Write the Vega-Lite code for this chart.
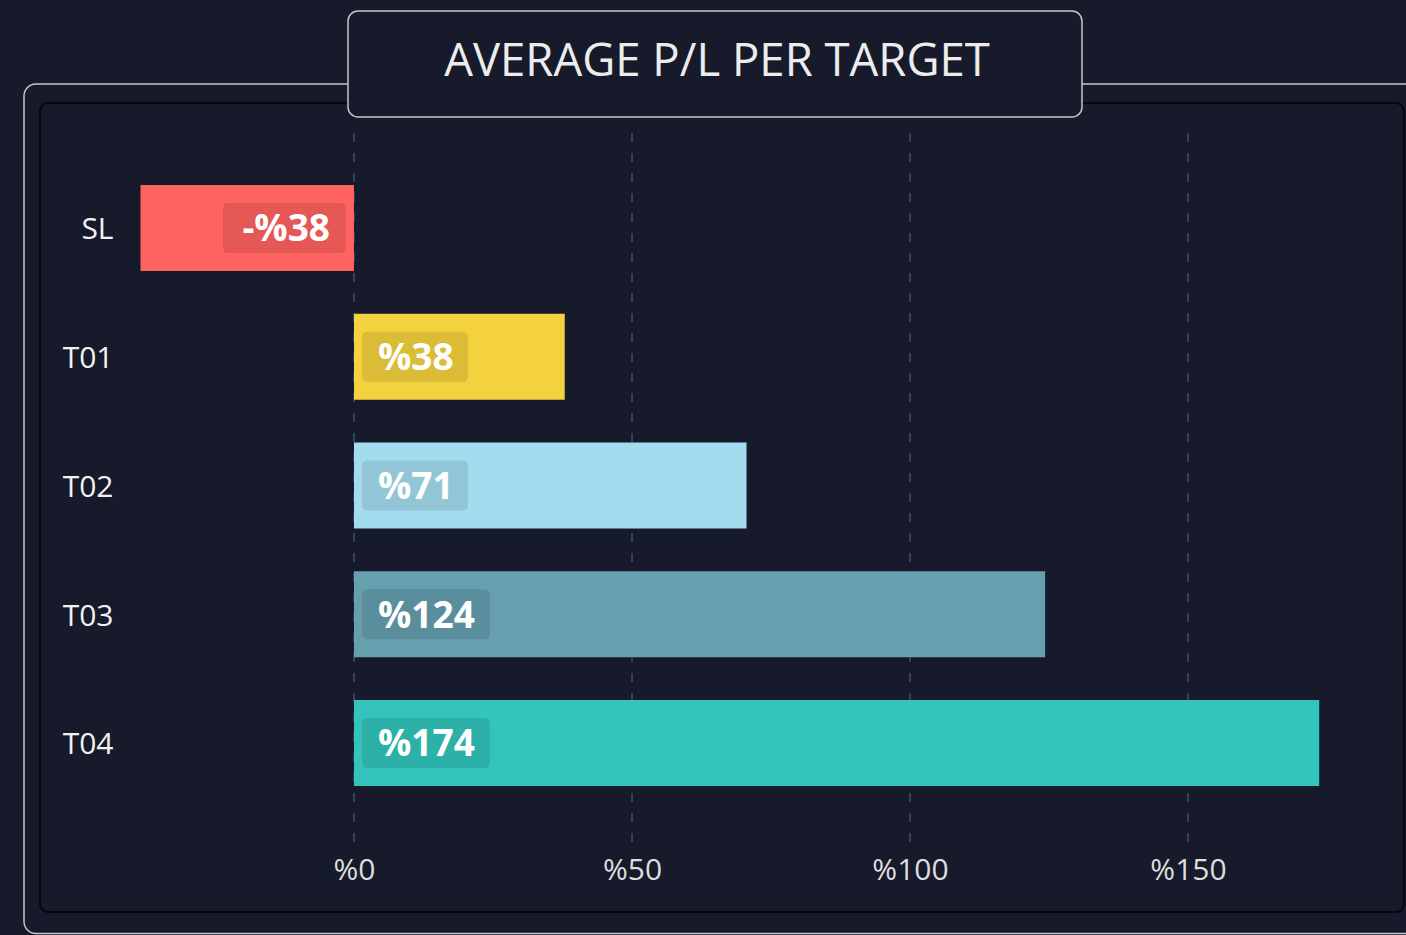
{
  "$schema": "https://vega.github.io/schema/vega-lite/v6.json",
  "background": "#171a2b",
  "width": 1364,
  "height": 809,
  "autosize": {"type": "none"},
  "padding": {"left": 40, "top": 103, "right": 2, "bottom": 23},
  "config": {"font": "Open Sans"},
  "view": {"stroke": "#06070c", "strokeWidth": 2, "cornerRadius": 8, "fill": null},
  "data": {
    "values": [
      {"target": "SL", "pl": -38.4, "label": "-%38"},
      {"target": "T01", "pl": 37.9, "label": "%38"},
      {"target": "T02", "pl": 70.6, "label": "%71"},
      {"target": "T03", "pl": 124.3, "label": "%124"},
      {"target": "T04", "pl": 173.6, "label": "%174"}
    ]
  },
  "layer": [
    {
      "data": {"values": [{"tick": 0}, {"tick": 50}, {"tick": 100}, {"tick": 150}]},
      "mark": {"type": "rule", "color": "#363e63", "strokeWidth": 2, "strokeDash": [9, 11], "yOffset": -95, "y2Offset": 99},
      "encoding": {
        "x": {"field": "tick", "type": "quantitative", "scale": {"domain": [-56.475, 188.85], "nice": false, "zero": false}},
        "y": {"datum": "SL", "type": "nominal"},
        "y2": {"datum": "T04"}
      }
    },
    {
      "mark": {"type": "bar"},
      "encoding": {
        "x": {
          "field": "pl",
          "type": "quantitative",
          "scale": {"domain": [-56.475, 188.85], "nice": false, "zero": false},
          "axis": {
            "values": [0, 50, 100, 150],
            "labelExpr": "'%' + datum.value",
            "title": null,
            "domain": false,
            "ticks": false,
            "tickSize": 0,
            "grid": false,
            "labelPadding": -42,
            "labelBaseline": "middle",
            "labelFontSize": 30,
            "labelColor": "#dedede",
            "labelFont": "Open Sans",
            "labelFlush": false,
            "labelOverlap": false
          }
        },
        "y": {
          "field": "target",
          "type": "nominal",
          "sort": null,
          "scale": {"domain": ["SL", "T01", "T02", "T03", "T04"], "paddingInner": 0.332, "paddingOuter": 0.8078, "align": 0.3942, "round": false},
          "axis": {
            "title": null,
            "domain": false,
            "ticks": false,
            "tickSize": 0,
            "labelPadding": -73,
            "labelOffset": 2.5,
            "labelAlign": "right",
            "labelBaseline": "middle",
            "labelFontSize": 30,
            "labelColor": "#f2f2f2",
            "labelFont": "Open Sans"
          }
        },
        "color": {
          "field": "target",
          "type": "nominal",
          "scale": {"domain": ["SL", "T01", "T02", "T03", "T04"], "range": ["#ff6360", "#f4d23e", "#a3dcee", "#669fae", "#33c5bb"]},
          "legend": null
        }
      }
    },
    {
      "mark": {"type": "point", "filled": true, "size": 4, "color": "#000000", "opacity": 0.1, "strokeWidth": 0},
      "encoding": {
        "x": {"datum": 0, "type": "quantitative"},
        "y": {"field": "target", "type": "nominal", "sort": null},
        "shape": {
          "field": "target",
          "type": "nominal",
          "scale": {
            "domain": ["SL", "T01", "T02", "T03", "T04"],
            "range": [
              "M -126 -25 H -13 A 5 5 0 0 1 -8 -20 V 20 A 5 5 0 0 1 -13 25 H -126 A 5 5 0 0 1 -131 20 V -20 A 5 5 0 0 1 -126 -25 Z",
              "M 13 -25 H 109 A 5 5 0 0 1 114 -20 V 20 A 5 5 0 0 1 109 25 H 13 A 5 5 0 0 1 8 20 V -20 A 5 5 0 0 1 13 -25 Z",
              "M 13 -25 H 109 A 5 5 0 0 1 114 -20 V 20 A 5 5 0 0 1 109 25 H 13 A 5 5 0 0 1 8 20 V -20 A 5 5 0 0 1 13 -25 Z",
              "M 13 -25 H 131 A 5 5 0 0 1 136 -20 V 20 A 5 5 0 0 1 131 25 H 13 A 5 5 0 0 1 8 20 V -20 A 5 5 0 0 1 13 -25 Z",
              "M 13 -25 H 131 A 5 5 0 0 1 136 -20 V 20 A 5 5 0 0 1 131 25 H 13 A 5 5 0 0 1 8 20 V -20 A 5 5 0 0 1 13 -25 Z"
            ]
          },
          "legend": null
        }
      }
    },
    {
      "transform": [{"filter": "datum.pl >= 0"}],
      "mark": {"type": "text", "align": "left", "baseline": "middle", "dx": 24, "dy": 2.5, "font": "Open Sans", "fontWeight": "bold", "fontSize": 37, "color": "#ffffff"},
      "encoding": {
        "x": {"datum": 0, "type": "quantitative"},
        "y": {"field": "target", "type": "nominal", "sort": null},
        "text": {"field": "label"}
      }
    },
    {
      "transform": [{"filter": "datum.pl < 0"}],
      "mark": {"type": "text", "align": "right", "baseline": "middle", "dx": -24, "dy": 2.5, "font": "Open Sans", "fontWeight": "bold", "fontSize": 37, "color": "#ffffff"},
      "encoding": {
        "x": {"datum": 0, "type": "quantitative"},
        "y": {"field": "target", "type": "nominal", "sort": null},
        "text": {"field": "label"}
      }
    },
    {
      "data": {"values": [{"frame": "outer"}]},
      "mark": {"type": "point", "filled": false, "size": 4, "stroke": "#c6c6c6", "strokeWidth": 1.5, "opacity": 1,
               "shape": "M -318 -144 H 1054 A 12 12 0 0 1 1066 -132 V 693.5 A 12 12 0 0 1 1054 705.5 H -318 A 12 12 0 0 1 -330 693.5 V -132 A 12 12 0 0 1 -318 -144 Z"},
      "encoding": {
        "x": {"datum": 0, "type": "quantitative"},
        "y": {"datum": "SL", "type": "nominal"}
      }
    },
    {
      "data": {"values": [{"frame": "title"}]},
      "mark": {"type": "point", "filled": true, "size": 4, "fill": "#171a2b", "stroke": "#c6c6c6", "strokeWidth": 1.5, "opacity": 1,
               "shape": "M 4 -217 H 718 A 10 10 0 0 1 728 -207 V -121 A 10 10 0 0 1 718 -111 H 4 A 10 10 0 0 1 -6 -121 V -207 A 10 10 0 0 1 4 -217 Z"},
      "encoding": {
        "x": {"datum": 0, "type": "quantitative"},
        "y": {"datum": "SL", "type": "nominal"}
      }
    },
    {
      "data": {"values": [{"title": "AVERAGE P/L PER TARGET"}]},
      "mark": {"type": "text", "font": "Open Sans", "fontSize": 45.5, "color": "#ececec", "baseline": "middle", "align": "center", "dx": -5, "dy": -445.5},
      "encoding": {"text": {"field": "title"}}
    }
  ]
}
